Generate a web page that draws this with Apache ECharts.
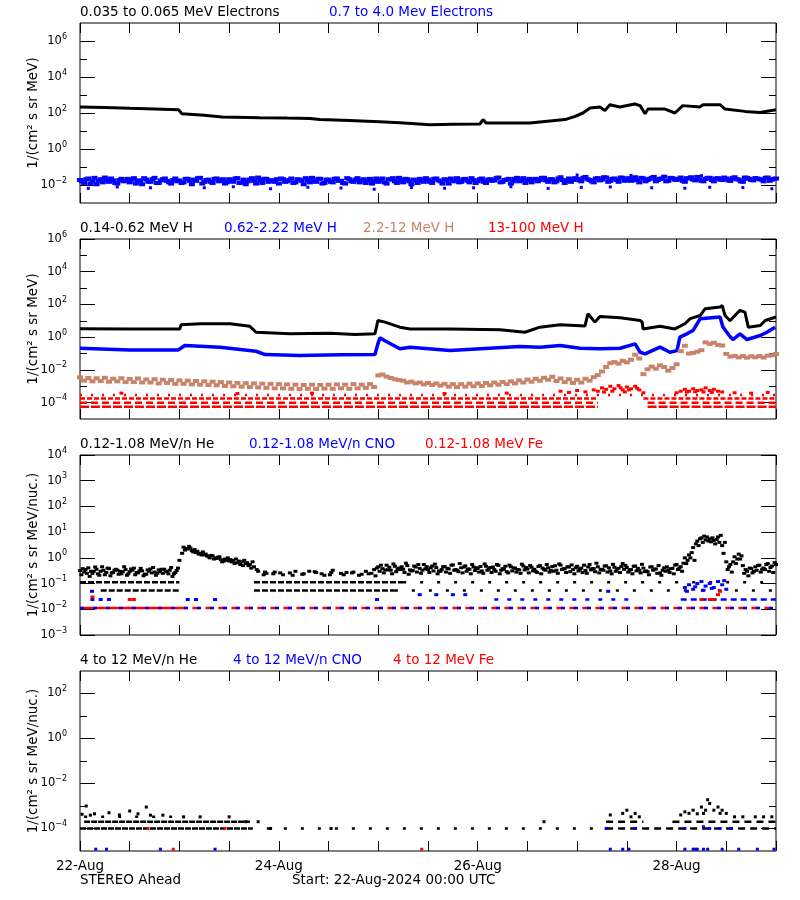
<!DOCTYPE html>
<html><head><meta charset="utf-8">
<script src="https://cdn.jsdelivr.net/npm/echarts@6/dist/echarts.min.js"></script>
<style>html,body{margin:0;padding:0;background:#fff}#c{width:800px;height:900px}</style>
</head><body><div id="c"></div>
<script>
// ---------------- DATA (hours since 22-Aug-2024 00:00 UTC, fluxes) ----------------
const xTickHours = [0, 48, 96, 144];
const xTickLabels = ['22-Aug', '24-Aug', '26-Aug', '28-Aug'];

const panelTitleText = [
  ['0.035 to 0.065 MeV Electrons', '0.7 to 4.0 Mev Electrons'],
  ['0.14-0.62 MeV H', '0.62-2.22 MeV H', '2.2-12 MeV H', '13-100 MeV H'],
  ['0.12-1.08 MeV/n He', '0.12-1.08 MeV/n CNO', '0.12-1.08 MeV Fe'],
  ['4 to 12 MeV/n He', '4 to 12 MeV/n CNO', '4 to 12 MeV Fe']
];
const yAxisTitles = ['1/(cm² s sr MeV)', '1/(cm² s sr MeV)', '1/(cm² s sr MeV/nuc.)', '1/(cm² s sr MeV/nuc.)'];
// log10 exponent ranges and tick exponents
const yExpRange = [[-3, 7], [-5, 6], [-3, 4], [-5, 3]];
const yMajorExp = [[-2, 0, 2, 4, 6], [-4, -2, 0, 2, 4, 6], [-3, -2, -1, 0, 1, 2, 3, 4], [-4, -2, 0, 2]];
const yMinorExp = [[-1, 1, 3, 5], [-3, -1, 1, 3, 5], [], [-3, -1, 1]];

// Panel 1: 0.035-0.065 MeV electrons [hour, flux]
const elecLow = [[0,214],[6,200],[12,182],[18,166],[23.8,151],[24.6,91],[30,75],[34.3,60],[43.4,55],[50,52],[55.5,50],[57.9,43],[65,38],[72.4,33],[77.2,29],[84.5,22],[90,24],[96.5,24.5],[97.3,43],[98,28],[101.4,27.5],[108.6,27.5],[112.2,34],[117.1,43],[119.5,65],[121.4,100],[123.1,190],[125.5,214],[126.7,135],[127.9,288],[130.3,214],[133.9,316],[135.2,257],[136.4,91],[137.1,166],[141.2,166],[143.6,100],[145.5,257],[149.6,214],[150.4,288],[154.5,288],[155.7,166],[160.5,123],[164.1,107],[168,151]];
// Panel 1: 0.7-4.0 MeV electrons, hourly samples (A: on the hour, B: half past)
const elecHighA = [
 .019,.013,.023,.016,.011,.021,.026,.015,.018,.012,.022,.017,
 .014,.024,.018,.011,.020,.015,.025,.013,.021,.017,.012,.023,
 .018,.014,.022,.011,.017,.025,.015,.020,.013,.023,.018,.012,
 .021,.015,.024,.014,.011,.020,.017,.026,.013,.022,.018,.015,
 .012,.021,.016,.023,.014,.020,.011,.018,.025,.015,.022,.013,
 .020,.014,.023,.017,.012,.021,.015,.024,.018,.013,.022,.016,
 .015,.023,.012,.020,.016,.025,.014,.021,.011,.018,.022,.015,
 .020,.013,.023,.016,.021,.012,.018,.024,.015,.022,.014,.019,
 .016,.023,.013,.021,.018,.026,.015,.020,.012,.022,.016,.024,
 .018,.014,.022,.019,.025,.015,.021,.016,.027,.013,.023,.019,
 .022,.016,.028,.019,.014,.024,.020,.026,.017,.023,.015,.025,
 .020,.017,.027,.014,.023,.019,.025,.016,.022,.029,.017,.024,
 .019,.026,.015,.023,.020,.028,.017,.022,.025,.016,.024,.019,
 .023,.017,.027,.020,.015,.025,.019,.024,.021,.016,.026,.020,.023];
const elecHighB = [
 .016,.021,.012,.025,.017,.014,.020,.023,.013,.019,.016,.022,
 .020,.012,.017,.024,.015,.021,.013,.018,.023,.014,.019,.016,
 .013,.022,.017,.020,.024,.012,.019,.015,.022,.016,.021,.014,
 .017,.023,.013,.020,.016,.024,.012,.019,.022,.015,.018,.021,
 .023,.015,.019,.013,.021,.017,.024,.014,.016,.022,.012,.020,
 .015,.022,.017,.013,.024,.016,.020,.014,.021,.018,.012,.023,
 .019,.014,.021,.024,.013,.018,.022,.016,.020,.013,.017,.024,
 .015,.022,.018,.012,.019,.023,.016,.014,.021,.017,.024,.013,
 .021,.015,.020,.017,.024,.014,.019,.022,.016,.025,.018,.013,
 .022,.020,.016,.025,.018,.021,.014,.023,.019,.017,.015,.024,
 .018,.025,.021,.016,.023,.018,.027,.015,.022,.019,.026,.017,
 .024,.021,.018,.025,.016,.022,.028,.019,.023,.016,.025,.020,
 .022,.017,.024,.027,.018,.021,.016,.025,.019,.023,.020,.026,
 .018,.024,.021,.016,.026,.022,.018,.023,.020,.025,.017,.022];
const elecHighOut = [[2,.0065],[9,.0078],[17,.007],[30,.007],[37,.008],[46,.0062],[55,.0075],[63,.0068],[71,.0058],[80,.0072],[88,.0066],[95,.007],[104,.008],[113,.0065],[121,.0074],[128,.0078],[138,.007],[146,.0066],[152,.0075],[160,.0072],[167,.0062],[120,.036],[133,.034],[150,.033]];

// Panel 2: protons
const h1 = [[0,3.3],[12,3.2],[24.1,3.2],[24.4,5.8],[29,6.6],[36.2,6.6],[41,4.6],[42.5,2.0],[50.7,1.6],[60.4,1.74],[66.4,1.48],[71.2,1.62],[71.9,10.5],[73.6,8.3],[77.2,4.1],[79.7,3.2],[89.3,3.2],[101.4,2.8],[107.4,2.0],[111,4.1],[115.9,5.8],[121.9,4.9],[122.6,27],[124.3,8.3],[125.5,18.6],[130.4,15.5],[135.2,10.5],[135.7,8.3],[135.9,3.2],[140,4.6],[143.6,3.2],[146,6.6],[147.3,13.5],[149.7,21],[150.9,55],[154.5,69],[155,87],[155.7,21],[156.9,10],[159.3,44],[160.5,34],[161.3,4.1],[164.2,5.2],[165.4,10.5],[168,17]];
const h2 = [[0,0.21],[12,0.166],[23.7,0.166],[25.3,0.31],[33.8,0.245],[42.5,0.138],[44.7,0.087],[53.1,0.076],[62.8,0.083],[71.2,0.087],[71.9,0.39],[72.4,0.91],[73.6,0.6],[77.2,0.195],[79.7,0.245],[89.3,0.151],[106.2,0.27],[111,0.245],[115.9,0.31],[120.7,0.21],[125.5,0.195],[130.4,0.21],[134,0.39],[135.2,0.12],[136.4,0.095],[140,0.245],[142.4,0.12],[144.1,0.151],[144.8,1.0],[146.5,1.6],[148,2.6],[149.7,13.5],[154.5,17],[155.2,4.1],[156.9,1.1],[157.6,0.72],[159.3,1.6],[161,0.72],[164.2,1.26],[165.8,2.0],[167.8,4.1]];
const h3 = [
 3.5e-3,2.2e-3,3.2e-3,2.0e-3,3.1e-3,2.1e-3,3.3e-3,1.9e-3,2.9e-3,2.0e-3,3.1e-3,1.8e-3,
 2.8e-3,1.8e-3,3.0e-3,1.7e-3,2.6e-3,1.7e-3,2.7e-3,1.5e-3,2.5e-3,1.6e-3,2.4e-3,1.4e-3,
 2.3e-3,1.4e-3,2.2e-3,1.3e-3,2.1e-3,1.25e-3,2.0e-3,1.2e-3,1.9e-3,1.15e-3,1.8e-3,1.05e-3,
 1.7e-3,1.0e-3,1.6e-3,0.95e-3,1.55e-3,0.9e-3,1.5e-3,0.85e-3,1.45e-3,0.8e-3,1.4e-3,0.75e-3,
 1.35e-3,0.75e-3,1.3e-3,0.7e-3,1.25e-3,0.68e-3,1.2e-3,0.7e-3,1.25e-3,0.68e-3,1.2e-3,0.72e-3,
 1.25e-3,0.7e-3,1.3e-3,0.75e-3,1.25e-3,0.7e-3,1.35e-3,0.75e-3,1.25e-3,0.8e-3,1.35e-3,0.9e-3,
 4.6e-3,5.2e-3,3.9e-3,3.2e-3,2.7e-3,2.4e-3,2.2e-3,1.7e-3,1.9e-3,1.5e-3,1.7e-3,1.3e-3,
 1.6e-3,1.2e-3,1.5e-3,1.1e-3,1.4e-3,0.95e-3,1.35e-3,0.9e-3,1.35e-3,0.95e-3,1.45e-3,1.0e-3,
 1.5e-3,1.05e-3,1.6e-3,1.15e-3,1.7e-3,1.25e-3,1.85e-3,1.35e-3,2.0e-3,1.5e-3,2.3e-3,1.7e-3,
 2.6e-3,1.9e-3,2.9e-3,2.2e-3,3.3e-3,2.5e-3,3.8e-3,2.1e-3,3.0e-3,1.8e-3,2.7e-3,1.6e-3,
 2.5e-3,1.7e-3,2.9e-3,2.2e-3,3.6e-3,4.8e-3,8.0e-3,1.5e-2,2.6e-2,3.0e-2,2.4e-2,3.6e-2,
 2.9e-2,4.2e-2,8.5e-2,5.0e-2,5.5e-3,1.1e-2,1.6e-2,1.2e-2,1.9e-2,1.5e-2,0.9e-2,1.3e-2,
 2.2e-2,1.4e-1,3.0e-1,1.0e-1,1.1e-1,1.3e-1,1.6e-1,4.8e-1,3.8e-1,4.6e-1,3.4e-1,3.1e-1,
 9.5e-2,6.5e-2,7.2e-2,5.8e-2,7.0e-2,5.6e-2,6.8e-2,5.9e-2,7.1e-2,5.7e-2,7.4e-2,7.8e-2,9.5e-2];
// 13-100 MeV H: quantised count-rate levels, rows [level index, start hour, end hour]
const h4Levels = [2.9e-4, 1.8e-4, 1.0e-4, 5.6e-5];
const h4Rows = [[0,0,168],[1,0,125],[1,136,168],[2,0,125],[2,137,168],[3,0,125],[3,137,168]];
const h4Pts = [[116,5e-4],[118,4.2e-4],[120,5.5e-4],[122,4.5e-4],[124,6e-4],[125,5e-4],[126,8e-4],[126.5,4.4e-4],[127,6.5e-4],[128,1.0e-3],[128.5,5e-4],[129,7e-4],[130,1.1e-3],[130.5,8e-4],[131,6e-4],[131.5,4.5e-4],[132,9e-4],[132.5,6e-4],[133,7e-4],[134,1.0e-3],[134.5,7.5e-4],[135,6e-4],[136,4e-4],[144,4e-4],[145,5e-4],[146,6.5e-4],[146.5,4.4e-4],[147,5e-4],[148,7e-4],[148.5,4.6e-4],[149,5.5e-4],[150,6e-4],[150.5,4.5e-4],[151,8e-4],[152,5.5e-4],[152.5,4.2e-4],[153,6.5e-4],[154,5e-4],[155,4.5e-4],[158,4e-4],[162,3.8e-4],[166,4.2e-4],[10,3.8e-4],[38,3.6e-4],[56,3.8e-4],[88,3.6e-4],[103,3.8e-4]];

// Panel 3: 0.12-1.08 MeV/n ions, hourly samples (null = no count)
const heA = [
 .32,.28,.41,.25,.36,.30,.22,.38,.27,.33,.24,.35,
 .29,.40,.26,.31,.23,.37,.28,.34,.25,.30,.42,.27,
 .8,2.6,2.2,1.9,1.6,1.5,1.3,1.1,1.2,.95,.85,.9,
 .75,.8,.65,.7,.6,.55,.45,.30,null,.25,null,.28,
 null,.22,null,null,.30,null,.24,null,null,.27,null,.21,
 null,.33,null,.25,null,null,.28,null,.23,.30,null,.35,
 .45,.38,.52,.33,.47,.40,.36,.50,.31,.44,.39,.55,
 .35,.48,.42,.30,.46,.37,.53,.33,.41,.49,.36,.44,
 .39,.31,.47,.42,.35,.51,.38,.29,.45,.40,.34,.48,
 .37,.43,.30,.50,.36,.41,.46,.33,.52,.38,.44,.35,
 .47,.40,.32,.55,.38,.45,.36,.49,.31,.43,.39,.60,
 .42,.35,.48,.33,.40,.29,.45,.37,.26,.41,.34,.39,
 .55,.45,1.0,1.3,2.5,4.5,6.0,5.0,5.5,4.8,6.5,3.0,
 .7,.55,1.1,1.4,.5,.30,.38,.45,.52,.40,.60,.48,.55];
const heB = [
 .22,.35,.19,.30,.24,.45,.27,.20,.33,.23,.29,.21,
 .37,.22,.31,.20,.34,.26,.21,.29,.36,.24,.19,.32,
 null,2.0,2.8,1.7,1.8,1.3,1.4,1.0,.9,1.05,.7,.8,
 .85,.6,.75,.5,.65,.4,null,null,.22,null,null,null,
 .26,null,null,.21,null,null,null,.3,null,null,.24,null,
 .22,null,null,null,.27,null,null,.21,null,null,.25,.20,
 .30,.26,.34,.24,.29,.35,.27,.23,.32,.28,.25,.37,
 .27,.31,.24,.35,.28,.25,.33,.29,.26,.30,.24,.32,
 .28,.25,.33,.27,.30,.24,.36,.26,.31,.28,.25,.34,
 .26,.31,.27,.24,.33,.28,.30,.25,.35,.27,.29,.24,
 .31,.27,.25,.34,.29,.26,.33,.28,.24,.30,.27,.36,
 .28,.24,.31,.26,.29,.22,.33,.25,.21,.30,.27,.24,
 .35,.30,.6,1.0,.8,3.0,4.0,6.5,4.2,3.5,4.0,1.5,
 .35,.28,.6,.9,.25,.20,.26,.33,.28,.35,.30,.27,.38];
const heC = [
 .38,.25,.30,.44,.21,.33,.40,.26,.36,.30,.45,.24,
 .33,.27,.39,.23,.30,.42,.25,.36,.29,.33,.24,.40,
 1.5,2.3,2.4,2.1,1.4,1.7,1.2,1.25,1.0,1.1,.75,1.0,
 .7,.9,.55,.8,.5,.7,.35,null,.28,null,.24,null,
 null,null,.26,null,null,.23,null,null,.29,null,null,null,
 .27,null,null,.22,null,.26,null,null,null,.24,null,.4,
 .52,.34,.43,.58,.36,.45,.62,.34,.48,.55,.33,.46,
 .41,.57,.31,.45,.39,.52,.35,.60,.44,.37,.55,.41,
 .46,.58,.36,.44,.55,.33,.47,.52,.40,.35,.57,.42,
 .50,.36,.46,.40,.55,.33,.49,.58,.37,.45,.53,.41,
 .36,.52,.44,.38,.62,.35,.48,.41,.56,.37,.46,.51,
 .33,.47,.39,.56,.31,.44,.36,.50,.33,.45,.38,.52,
 .40,.62,.8,1.6,3.5,5.5,7.0,4.5,6.0,5.2,7.5,4.0,
 .45,.7,.9,1.2,.35,.4,.3,.5,.36,.55,.42,.65,.47];
// quantised rows [level, start, end, style index]
const heRows = [[0.112,0,24,1],[0.112,42,78,1],[0.112,78,168,0],[0.054,5,24,1],[0.054,42,76,1],[0.054,76,168,0]];
const cnoRows = [[0.0112,0,168,0],[0.024,100,134,0],[0.024,145,168,1]];
const feRows = [[0.0112,0,24,1],[0.0112,24,168,0]];
const cnoPts = [[2.9,0.05],[3,0.024],[5,0.024],[7,0.024],[26,0.024],[28,0.024],[32.6,0.024],[71.7,0.024],[82,0.037],[86,0.037],[90,0.037],[93,0.037],[127.5,0.05],[146,0.07],[147,0.09],[148,0.06],[149,0.1],[150,0.12],[151,0.08],[152,0.1],[153,0.07],[154,0.12],[155,0.09],[156,0.06],[155.5,0.13],[152.5,0.065],[150.5,0.055],[148.5,0.075],[146.5,0.05]];
const fePts = [[3,0.03],[12,0.024],[13,0.024],[150,0.024],[152,0.024],[153,0.024],[154,0.037],[154.5,0.05]];

// Panel 4: 4-12 MeV/n ions
const he4Rows = [[1.0e-4,0,41,2],[1.0e-4,41,127,0],[1.0e-4,127,168,1],[2.0e-4,1,41,2],[2.0e-4,127,136,1],[2.0e-4,143,168,1],[3.3e-4,1,25,0]];
const he4Pts = [[0.5,4.3e-4],[1.5,1e-3],[2.5,3.9e-4],[3.5,4.5e-4],[7,5e-4],[9.5,4e-4],[12,6e-4],[14,4.5e-4],[16,9e-4],[17,3.9e-4],[20,3.9e-4],[25,3.3e-4],[29,3.3e-4],[36,3.3e-4],[40,2e-4],[43,2e-4],[46,1e-4],[60.6,1e-4],[112,2e-4],[128,4e-4],[131,4.7e-4],[132,6.5e-4],[133,3.3e-4],[134,4.7e-4],[135,3.3e-4],[145,4e-4],[146,5.5e-4],[147,4.7e-4],[148,6.5e-4],[149,4.5e-4],[150,9e-4],[150.5,4.7e-4],[151,6.5e-4],[151.5,1.9e-3],[152,1.3e-3],[153,6.5e-4],[154,9e-4],[154.5,4.7e-4],[155,6.5e-4],[156,4.7e-4],[158,3.3e-4],[160,3.3e-4],[163,3.3e-4],[165,3.3e-4],[167,3.3e-4]];
const cno4Pts = [[3.8,1.2e-5],[6.4,1.2e-5],[19.4,1.2e-5],[32.6,1.2e-5],[128,1.2e-5],[131,1.2e-5],[132.5,1.2e-5],[146,1.2e-5],[148,1.2e-5],[148.5,1.2e-5],[149,1.2e-5],[150.5,1.2e-5],[151.5,1.2e-5],[155,1.2e-5],[159,1.2e-5],[163.5,1.2e-5],[167.5,1.2e-5],[127,1e-4],[134,1e-4],[146,1e-4],[150.5,1.2e-4],[152,1e-4],[154.5,1e-4],[157,1e-4]];
const fe4Pts = [[22.5,1.2e-5],[16.4,1e-4],[35,1e-4],[82.5,1.2e-5]];

// ---------------- LAYOUT / STYLE ----------------
const F = 'DejaVu Sans';
const C_BLACK = '#000000', C_BLUE = '#0000ff', C_BROWN = '#c8846a', C_RED = '#ff0000';
const panelColors = [[C_BLACK, C_BLUE], [C_BLACK, C_BLUE, C_BROWN, C_RED], [C_BLACK, C_BLUE, C_RED], [C_BLACK, C_BLUE, C_RED]];
const panelTitleX = [[80, 329], [80, 224, 363, 488], [80, 249, 425], [80, 233, 393]];
const gridTop = [23, 239, 455, 671];
const GL = 80, GW = 696, GH = 180;

const L = v => Math.log10(v);
const pairs = arr => arr.map(p => [p[0], L(p[1])]);
const hourly = (arr, off) => arr.map((v, i) => v == null ? null : [i + (off || 0), L(v)]).filter(p => p);
const expLabel = v => '{b|10}{s|' + (v < 0 ? '\u2212' + (-v) : v) + '}';

const grids = [], xAxes = [], yAxes = [], series = [], titles = [];
const yIdx = [];
for (let p = 0; p < 4; p++) {
  grids.push({left: GL, top: gridTop[p], width: GW, height: GH, show: true, borderColor: '#000', borderWidth: 1, containLabel: false});
  ['bottom', 'top'].forEach(pos => xAxes.push({
    type: 'value', gridIndex: p, min: 0, max: 168, interval: 12, position: pos,
    axisLine: {show: false, onZero: false}, splitLine: {show: false},
    axisTick: {show: true, inside: true, length: 10, lineStyle: {color: '#000', width: 1}},
    axisLabel: {show: p === 3 && pos === 'bottom', customValues: xTickHours, margin: 8,
      formatter: v => xTickLabels[xTickHours.indexOf(v)] || '', color: '#000', fontFamily: F, fontSize: 13.5}
  }));
  yIdx.push(yAxes.length);
  ['left', 'right'].forEach(pos => {
    yAxes.push({
      type: 'value', gridIndex: p, min: yExpRange[p][0], max: yExpRange[p][1], position: pos,
      name: pos === 'left' ? yAxisTitles[p] : '', nameLocation: 'middle', nameGap: 40, nameMoveOverlap: false,
      nameTextStyle: {color: '#000', fontFamily: F, fontSize: 13.5},
      axisLine: {show: false, onZero: false}, splitLine: {show: false},
      axisTick: {show: true, inside: true, length: 15, customValues: yMajorExp[p], lineStyle: {color: '#000'}},
      axisLabel: {show: pos === 'left', customValues: yMajorExp[p], margin: 13, formatter: expLabel,
        rich: {b: {fontFamily: F, fontSize: 11.5, color: '#000'}, s: {fontFamily: F, fontSize: 8, color: '#000', padding: [0, 0, 9, 0]}}}
    });
    if (yMinorExp[p].length) yAxes.push({
      type: 'value', gridIndex: p, min: yExpRange[p][0], max: yExpRange[p][1], position: pos,
      axisLine: {show: false, onZero: false}, splitLine: {show: false}, axisLabel: {show: false},
      axisTick: {show: true, inside: true, length: 7, customValues: yMinorExp[p], lineStyle: {color: '#000'}}
    });
  });
  panelTitleText[p].forEach((t, k) => titles.push({
    text: t, left: panelTitleX[p][k], top: gridTop[p] - 18, padding: 0,
    textStyle: {color: panelColors[p][k], fontFamily: F, fontSize: 13.5, fontWeight: 'normal'}
  }));
}
titles.push({text: 'STEREO Ahead', left: 80, top: 873, padding: 0, textStyle: {color: '#000', fontFamily: F, fontSize: 13.5, fontWeight: 'normal'}});
titles.push({text: 'Start: 22-Aug-2024 00:00 UTC', left: 292, top: 873, padding: 0, textStyle: {color: '#000', fontFamily: F, fontSize: 13.5, fontWeight: 'normal'}});

function line(p, data, color, width, dash) {
  series.push({type: 'line', xAxisIndex: p * 2, yAxisIndex: yIdx[p], data, symbol: 'none', showSymbol: false,
    lineStyle: {color, width, type: dash || 'solid'}, silent: true, animation: false, z: 3});
}
function dots(p, data, color, size) {
  series.push({type: 'scatter', xAxisIndex: p * 2, yAxisIndex: yIdx[p], data, symbol: 'rect', symbolSize: size,
    itemStyle: {color, opacity: 1}, silent: true, animation: false, z: 3});
}
function rows(p, list, color, dashes) {
  list.forEach(r => line(p, [[r[1], L(r[0])], [r[2], L(r[0])]], color, 2.5, dashes[r[3]]));
}

// Panel 1
dots(0, hourly(elecHighA), C_BLUE, [6, 4]);
dots(0, hourly(elecHighB, 0.5), C_BLUE, [6, 4]);
dots(0, pairs(elecHighOut), C_BLUE, [3, 3]);
line(0, pairs(elecLow), C_BLACK, 3);
// Panel 2
h4Rows.forEach(r => line(1, [[r[1], L(h4Levels[r[0]])], [r[2], L(h4Levels[r[0]])]], C_RED, 2.5, [[2, 9], [5, 2], [7, 4], [9, 2]][r[0]]));
dots(1, pairs(h4Pts), C_RED, [4, 3]);
dots(1, hourly(h3), C_BROWN, [6, 4]);
line(1, pairs(h2), C_BLUE, 3.5);
line(1, pairs(h1), C_BLACK, 3);
// Panel 3
rows(2, heRows, C_BLACK, [[3, 14], [6, 2]]);
dots(2, hourly(heA), C_BLACK, [4, 3]);
dots(2, hourly(heB, 0.33), C_BLACK, [4, 3]);
dots(2, hourly(heC, 0.66), C_BLACK, [4, 3]);
rows(2, feRows, C_RED, [[7, 6], [6, 0]]);
rows(2, cnoRows, C_BLUE, [[4, 9], [6, 4]]);
dots(2, pairs(cnoPts), C_BLUE, [4, 3]);
dots(2, pairs(fePts), C_RED, [4, 3]);
// Panel 4
rows(3, he4Rows, C_BLACK, [[3, 14], [7, 5], [6, 1]]);
dots(3, pairs(he4Pts), C_BLACK, [3, 3]);
dots(3, pairs(cno4Pts), C_BLUE, [3, 3]);
dots(3, pairs(fe4Pts), C_RED, [3, 3]);

const chart = echarts.init(document.getElementById('c'));
chart.setOption({animation: false, backgroundColor: '#fff', title: titles, grid: grids, xAxis: xAxes, yAxis: yAxes, series});
</script></body></html>
